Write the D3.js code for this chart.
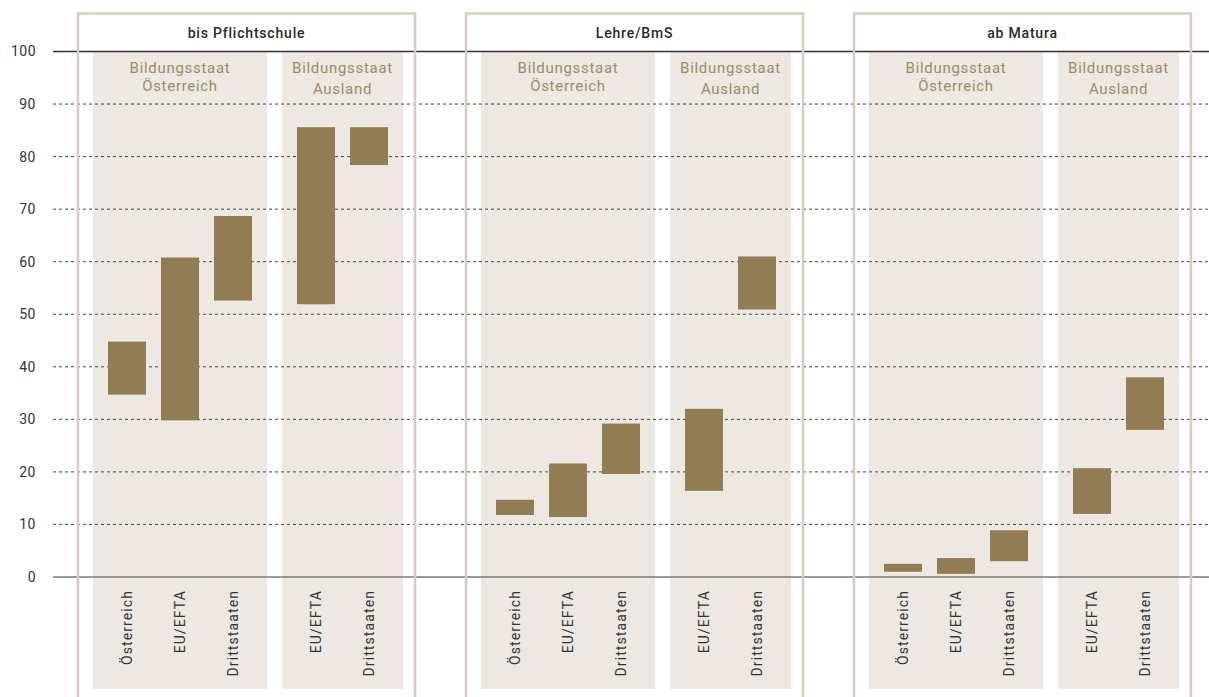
<!DOCTYPE html>
<html>
<head>
<meta charset="utf-8">
<script src="https://cdn.jsdelivr.net/npm/d3@7"></script>
<style>
  html, body { margin: 0; padding: 0; background: #fff; }
  svg { display: block; font-family: Roboto, "DejaVu Sans", sans-serif; }
</style>
</head>
<body>
<svg id="chart" width="1209" height="697"></svg>
<script>
// Education groups (panels)
const groups = ["bis Pflichtschule", "Lehre/BmS", "ab Matura"];
// Sections inside each panel
const sectionLabels = [["Bildungsstaat", "Österreich"], ["Bildungsstaat", "Ausland"]];
const sectionCats = [["Österreich", "EU/EFTA", "Drittstaaten"], ["EU/EFTA", "Drittstaaten"]];
// Range bars: low and high value per group, in section order
const lowValues = [
  [34.7, 29.8, 52.6, 51.9, 78.4],
  [11.8, 11.4, 19.6, 16.4, 50.9],
  [1.0, 0.6, 3.0, 12.0, 28.0]
];
const highValues = [
  [44.8, 60.8, 68.7, 85.6, 85.6],
  [14.7, 21.6, 29.2, 32.0, 61.0],
  [2.5, 3.6, 8.9, 20.7, 38.0]
];
const yTicks = [0, 10, 20, 30, 40, 50, 60, 70, 80, 90, 100];

const svg = d3.select("#chart");
const W = 1209;

const y = d3.scaleLinear().domain([0, 100]).range([577, 51.5]);
const gx = d3.scaleBand().domain(groups).range([78, 1191]).paddingInner(51 / 388);

// section geometry inside a panel
const secOffsets = [15, 204];
const secWidths = [174, 121];
const secScales = sectionCats.map((cats, i) =>
  d3.scaleBand().domain(cats).range([0, secWidths[i]])
    .paddingInner(15 / 53).paddingOuter(15 / 53));

const bgColor = "#ede9e2";
const barColor = "#917c53";
const borderColor = "#d8cdb9";
const secTextColor = "#9f8b65";

// section backgrounds
const bgLayer = svg.append("g");
groups.forEach(g => {
  secOffsets.forEach((off, i) => {
    bgLayer.append("rect")
      .attr("x", gx(g) + off).attr("y", y(100))
      .attr("width", secWidths[i]).attr("height", 689 - y(100))
      .attr("fill", bgColor);
  });
});

// gridlines
const gridLayer = svg.append("g");
yTicks.forEach(t => {
  const line = gridLayer.append("line")
    .attr("x1", 53).attr("x2", W)
    .attr("y1", y(t)).attr("y2", y(t));
  if (t === 100) {
    line.attr("stroke", "#333").attr("stroke-width", 1.3);
  } else if (t === 0) {
    line.attr("stroke", "#7a7a7a").attr("stroke-width", 1.5);
  } else {
    line.attr("stroke", "#444").attr("stroke-width", 1).attr("stroke-dasharray", "3,3");
  }
});

// y axis labels
const yAxis = d3.axisLeft(y).tickValues(yTicks).tickSize(0).tickPadding(0);
const ya = svg.append("g").attr("transform", "translate(36,0)").call(yAxis);
ya.select(".domain").remove();
ya.selectAll("text")
  .attr("font-size", 14).attr("fill", "#333").attr("letter-spacing", 0.5)
  .style("font-family", "Roboto, sans-serif");

// panel frames, titles, section labels, bars, category labels
groups.forEach((g, gi) => {
  const x0 = gx(g);
  const panel = svg.append("g");

  panel.append("rect")
    .attr("x", x0).attr("y", 13.5)
    .attr("width", gx.bandwidth()).attr("height", 700)
    .attr("fill", "none").attr("stroke", borderColor).attr("stroke-width", 2.5);

  panel.append("text")
    .attr("x", x0 + gx.bandwidth() / 2).attr("y", 38)
    .attr("text-anchor", "middle")
    .attr("font-size", 14).attr("font-weight", 500)
    .attr("letter-spacing", 0.8)
    .attr("fill", "#2a2a2a")
    .text(g);

  let k = 0;
  sectionCats.forEach((cats, si) => {
    const sx = x0 + secOffsets[si];
    const sc = secScales[si];
    sectionLabels[si].forEach((line, li) => {
      panel.append("text")
        .attr("x", sx + secWidths[si] / 2)
        .attr("y", 73 + li * (si === 0 ? 18 : 21))
        .attr("text-anchor", "middle")
        .attr("font-size", 15).attr("letter-spacing", 0.7)
        .attr("fill", secTextColor)
        .text(line);
    });
    cats.forEach(c => {
      const lo = lowValues[gi][k], hi = highValues[gi][k];
      panel.append("rect")
        .attr("x", sx + sc(c)).attr("width", sc.bandwidth())
        .attr("y", y(hi)).attr("height", y(lo) - y(hi))
        .attr("fill", barColor);
      const cx = sx + sc(c) + sc.bandwidth() / 2;
      panel.append("text")
        .attr("transform", `translate(${cx + 5},590) rotate(-90)`)
        .attr("text-anchor", "end")
        .attr("font-size", 14).attr("letter-spacing", 1.1)
        .attr("fill", "#333")
        .text(c);
      k++;
    });
  });
});
</script>
</body>
</html>
